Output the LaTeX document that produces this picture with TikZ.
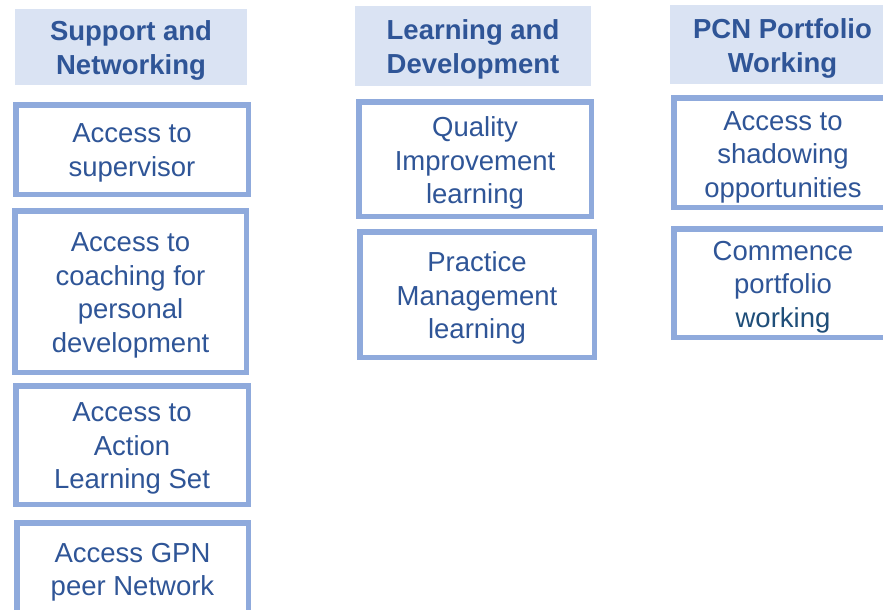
\documentclass[tikz,border=0pt]{standalone}
\usepackage{fontspec}
\setmainfont{Liberation Sans}
\definecolor{hdrfill}{HTML}{DAE3F3}
\definecolor{bordc}{HTML}{8FAADC}
\definecolor{txtc}{HTML}{2F5597}
\definecolor{txtdark}{HTML}{1F4E79}
\begin{document}
\begin{tikzpicture}[x=1pt,y=-1pt,
  hdr/.style={fill=hdrfill, draw=none, inner sep=0pt},
  item/.style={fill=white, draw=bordc, line width=5.5pt, inner sep=0pt},
  hdrtxt/.style={inner sep=0pt, align=center, text=txtc,
    font=\fontsize{27.5}{34}\selectfont\bfseries},
  itemtxt/.style={inner sep=0pt, align=center, text=txtc,
    font=\fontsize{27.5}{33.5}\selectfont}]
\useasboundingbox (0,0) rectangle (883,610);
\clip (0,0) rectangle (883,610);
\fill[white] (0,0) rectangle (883,610);
% column 1
\node[hdr, minimum width=232pt, minimum height=76pt] (h1) at (131,47) {};
\node[hdrtxt] (h1t) at ([yshift=-3.5pt]h1.center) {Support and\\Networking};
\node[item, minimum width=232.5pt, minimum height=89.5pt] (b1) at (132,149.5) {};
\node[itemtxt] (b1t) at ([yshift=-3.5pt]b1.center) {Access to\\supervisor};
\node[item, minimum width=231.5pt, minimum height=161.5pt] (b2) at (130.5,291.5) {};
\node[itemtxt] (b2t) at ([yshift=-4pt]b2.center) {Access to\\coaching for\\personal\\development};
\node[item, minimum width=232.5pt, minimum height=118.5pt] (b3) at (132,445) {};
\node[itemtxt] (b3t) at ([yshift=-3.5pt]b3.center) {Access to\\Action\\Learning Set};
\node[item, minimum width=231.5pt, minimum height=91.5pt] (b4) at (132.5,568.5) {};
\node[itemtxt] (b4t) at ([yshift=-3.5pt]b4.center) {Access GPN\\peer Network};
% column 2
\node[hdr, minimum width=236pt, minimum height=80pt] (h2) at (473,46) {};
\node[hdrtxt] (h2t) at ([yshift=-3.5pt]h2.center) {Learning and\\Development};
\node[item, minimum width=232.5pt, minimum height=114.5pt] (c1) at (475,159) {};
\node[itemtxt] (c1t) at ([yshift=-4pt]c1.center) {Quality\\Improvement\\learning};
\node[item, minimum width=234.5pt, minimum height=125.5pt] (c2) at (477,294.5) {};
\node[itemtxt] (c2t) at ([yshift=-3.5pt]c2.center) {Practice\\Management\\learning};
% column 3
\node[hdr, minimum width=225pt, minimum height=79pt] (h3) at (782.5,44.5) {};
\node[hdrtxt] (h3t) at ([yshift=-3.5pt]h3.center) {PCN Portfolio\\Working};
\node[item, minimum width=218.5pt, minimum height=109.5pt] (d1) at (783,152.5) {};
\node[itemtxt] (d1t) at ([yshift=-4.5pt]d1.center) {Access to\\shadowing\\opportunities};
\node[item, minimum width=218.5pt, minimum height=108.5pt] (d2) at (783,283) {};
\node[itemtxt] (d2t) at ([yshift=-4pt]d2.center) {Commence\\portfolio\\\textcolor{txtdark}{working}};
\end{tikzpicture}
\end{document}
